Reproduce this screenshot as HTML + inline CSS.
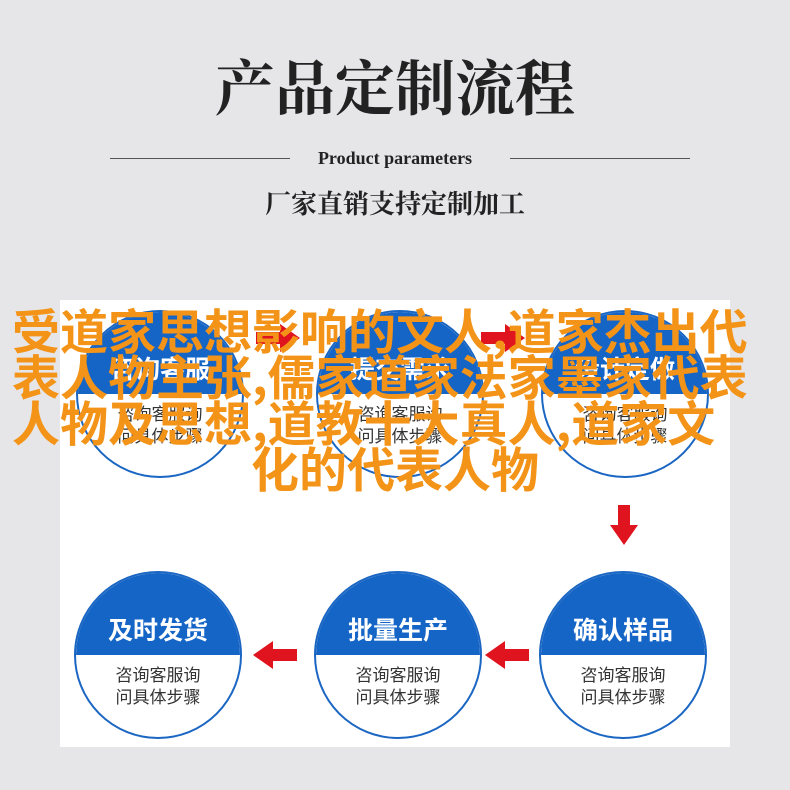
<!DOCTYPE html>
<html><head><meta charset="utf-8"><style>
body{margin:0;width:790px;height:790px;background:#e6e6e8;position:relative;overflow:hidden;font-family:"Liberation Sans","Noto Sans CJK SC",sans-serif}
.a{position:absolute}
.t{left:0;width:790px;text-align:center;font-family:"Liberation Serif","Noto Serif CJK SC",serif;font-weight:bold;color:#222}
.c{position:absolute;width:168px;height:168px;border-radius:50%;border:2px solid #1a66c2;overflow:hidden;background:#fff;box-sizing:border-box}
.c .h{height:50%;background:#1565c7;color:#fff;font-weight:bold;font-size:25px;text-align:center;line-height:116px;box-sizing:border-box}
.c .b{text-align:center;color:#333;font-size:17px;line-height:22px;padding-top:10px}
.ov{left:12px;width:766px;top:305px;color:#f39318;font-size:48px;line-height:46px;font-family:"Noto Sans CJK SC",sans-serif;font-weight:bold;white-space:nowrap}
.ov div{text-align:left}
.ov div.l{text-align:center;margin-left:-12px;width:790px}
</style></head><body>
<div class="a t" style="top:50px;font-size:60px;line-height:80px">产品定制流程</div>
<div class="a" style="left:110px;top:158px;width:180px;height:1px;background:#555"></div>
<div class="a" style="left:510px;top:158px;width:180px;height:1px;background:#555"></div>
<div class="a t" style="top:146px;font-size:18px;font-weight:bold;line-height:24px">Product parameters</div>
<div class="a t" style="top:188px;font-size:26px;line-height:34px">厂家直销支持定制加工</div>
<div class="a" style="left:60px;top:300px;width:670px;height:447px;background:#fff"></div>

<div class="c" style="left:76px;top:310px"><div class="h">咨询客服</div><div class="b">咨询客服询<br>问具体步骤</div></div>
<div class="c" style="left:316px;top:310px"><div class="h">提交需求</div><div class="b">咨询客服询<br>问具体步骤</div></div>
<div class="c" style="left:541px;top:310px"><div class="h">设计定做</div><div class="b">咨询客服询<br>问具体步骤</div></div>

<div class="c" style="left:74px;top:571px"><div class="h">及时发货</div><div class="b">咨询客服询<br>问具体步骤</div></div>
<div class="c" style="left:314px;top:571px"><div class="h">批量生产</div><div class="b">咨询客服询<br>问具体步骤</div></div>
<div class="c" style="left:539px;top:571px"><div class="h">确认样品</div><div class="b">咨询客服询<br>问具体步骤</div></div>

<svg class="a" style="left:0;top:0" width="790" height="790">
<g fill="#e0141e">
<polygon points="253,655 273,641 273,649 297,649 297,661 273,661 273,669"/>
<polygon points="485,655 505,641 505,649 529,649 529,661 505,661 505,669"/>
<polygon points="618,505 630,505 630,525 638,525 624,545 610,525 618,525"/>
<polygon points="300,338 280,324 280,332 256,332 256,344 280,344 280,352"/>
<polygon points="525,338 505,324 505,332 481,332 481,344 505,344 505,352"/>
</g></svg>

<div class="a ov"><div>受道家思想影响的文人,道家杰出代</div><div>表人物主张,儒家道家法家墨家代表</div><div>人物及思想,道教十大真人,道家文</div><div class="l">化的代表人物</div></div>
</body></html>
